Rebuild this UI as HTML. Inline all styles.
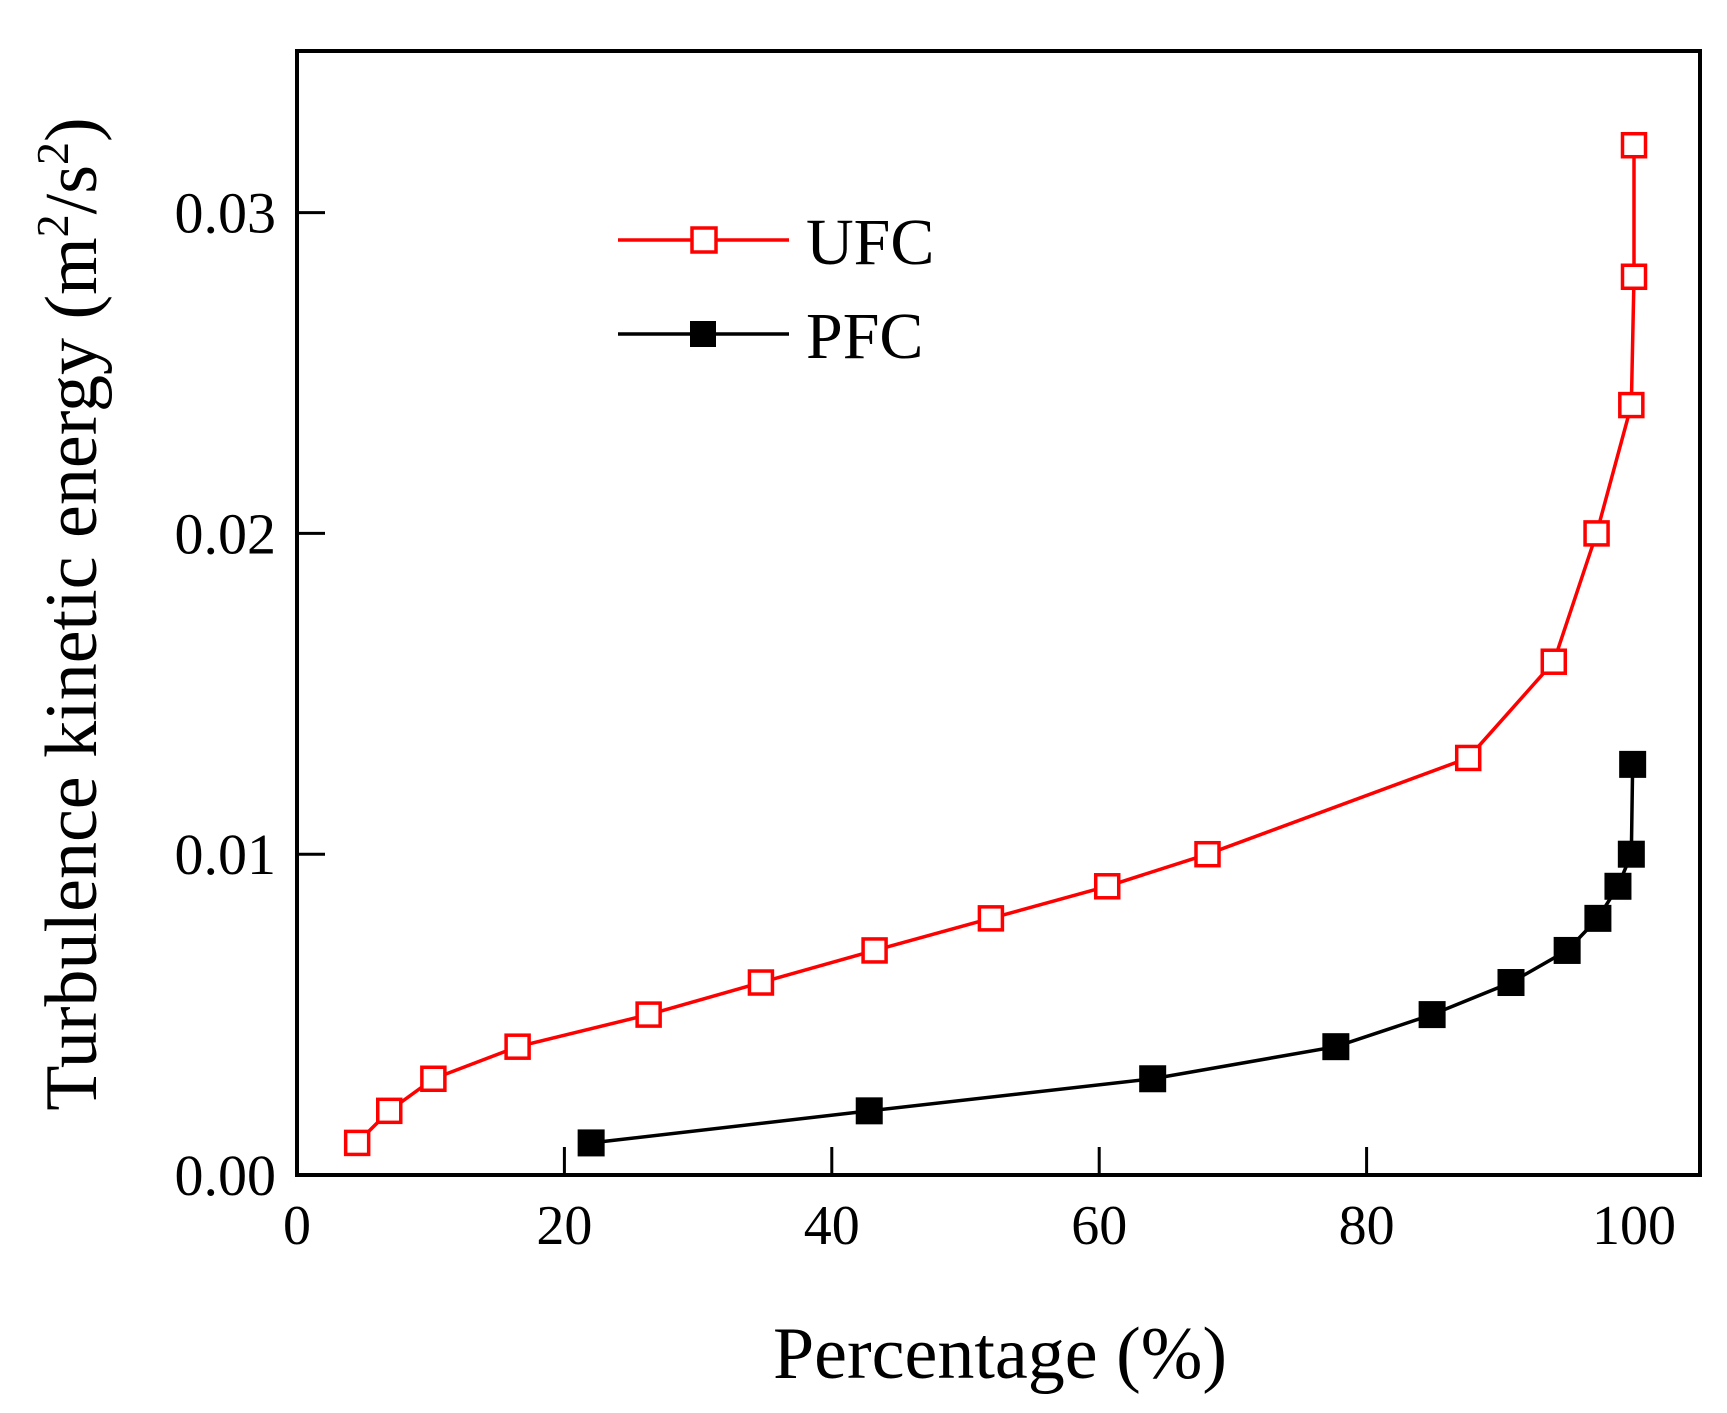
<!DOCTYPE html>
<html><head><meta charset="utf-8"><style>
body{margin:0;background:#fff}
svg{display:block;font-family:"Liberation Serif",serif}
</style></head><body>
<svg id="chart" width="1727" height="1413" viewBox="0 0 1727 1413" xmlns="http://www.w3.org/2000/svg">
<rect x="297" y="51" width="1403" height="1124" fill="none" stroke="#000" stroke-width="4"/>
<g id="axes"></g>
<g id="series"></g>
<g>
<line x1="618" y1="240" x2="789" y2="240" stroke="#f00" stroke-width="3.5"/>
<rect x="692" y="228" width="24" height="24" fill="#fff" stroke="#f00" stroke-width="3.5"/>
<text x="806" y="264" font-size="66">UFC</text>
<line x1="618" y1="334" x2="789" y2="334" stroke="#000" stroke-width="3.5"/>
<rect x="690" y="321" width="26" height="26" fill="#000"/>
<text x="806" y="358" font-size="66">PFC</text>
</g>
<text x="1000" y="1378" font-size="74" text-anchor="middle">Percentage (%)</text>
<text transform="translate(96,614) rotate(-90)" font-size="74" text-anchor="middle">Turbulence kinetic energy (m<tspan font-size="46" dy="-28">2</tspan><tspan dy="28">/s</tspan><tspan font-size="46" dy="-28">2</tspan><tspan dy="28">)</tspan></text>
</svg>
<script>
const xTicks=[0,20,40,60,80,100];
const yTicks=[0,0.01,0.02,0.03];
const yTickLabels=["0.00","0.01","0.02","0.03"];
const ufcX=[4.5,6.9,10.2,16.5,26.3,34.7,43.2,51.9,60.6,68.1,87.6,94.0,97.2,99.8,100,100];
const ufcY=[0.001,0.002,0.003,0.004,0.005,0.006,0.007,0.008,0.009,0.010,0.013,0.016,0.020,0.024,0.028,0.0321];
const pfcX=[22.0,42.8,64.0,77.7,84.9,90.8,95.0,97.3,98.8,99.8,99.9];
const pfcY=[0.001,0.002,0.003,0.004,0.005,0.006,0.007,0.008,0.009,0.010,0.0128];
const NS="http://www.w3.org/2000/svg";
function sx(v){return 297+v*13.37;}
function sy(v){return 1175-v*32080;}
function mk(tag,attrs,parent){const e=document.createElementNS(NS,tag);for(const k in attrs)e.setAttribute(k,attrs[k]);parent.appendChild(e);return e;}
const ax=document.getElementById('axes');
xTicks.forEach(t=>{
  if(t>0&&t<100){const l=mk('line',{x1:sx(t),x2:sx(t),y1:1175,y2:1147,stroke:'#000','stroke-width':3},ax);
  
  }
  const tx=mk('text',{x:sx(t),y:1244,'font-size':56,'text-anchor':'middle'},ax);tx.textContent=t;
  
  
});
yTicks.forEach((t,i)=>{
  if(t>0){const l=mk('line',{x1:297,x2:325,y1:sy(t),y2:sy(t),stroke:'#000','stroke-width':3},ax);
  
  }
  const tx=mk('text',{x:276,y:sy(t)+20,'font-size':58,'text-anchor':'end'},ax);tx.textContent=yTickLabels[i];
  
  
});
const sg=document.getElementById('series');
function series(xs,ys,color,filled,name){
  const p=mk('polyline',{points:xs.map((x,i)=>sx(x)+','+sy(ys[i])).join(' '),fill:'none',stroke:color,'stroke-width':3.5},sg);
  
  
  xs.forEach((x,i)=>{
    const s=filled?27:23;
    const r=mk('rect',{x:sx(x)-s/2,y:sy(ys[i])-s/2,width:s,height:s,fill:filled?color:'#fff',stroke:filled?'none':color,'stroke-width':3.5},sg);
    
    
  });
}
series(ufcX,ufcY,'#f00',false,'ufc');
series(pfcX,pfcY,'#000',true,'pfc');
</script>
</body></html>
